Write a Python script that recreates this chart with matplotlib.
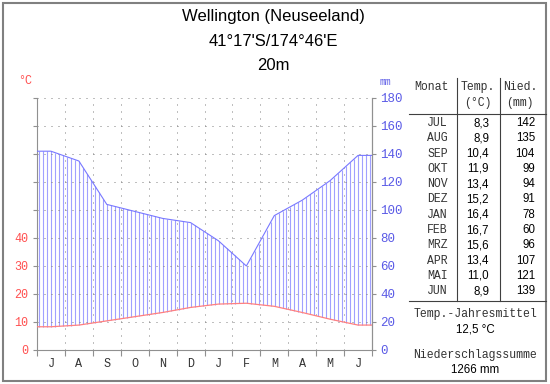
import matplotlib.pyplot as plt
import numpy as np
from matplotlib.patches import Rectangle
from matplotlib.lines import Line2D

# Wellington climate data (July .. June)
months = ["J", "A", "S", "O", "N", "D", "J", "F", "M", "A", "M", "J"]
month_names = ["JUL", "AUG", "SEP", "OKT", "NOV", "DEZ",
               "JAN", "FEB", "MRZ", "APR", "MAI", "JUN"]
temp = [8.3, 8.9, 10.4, 11.9, 13.4, 15.2, 16.4, 16.7, 15.6, 13.4, 11.0, 8.9]
prec = [142, 135, 104, 99, 94, 91, 78, 60, 96, 107, 121, 139]
temp_labels = ["8,3", "8,9", "10,4", "11,9", "13,4", "15,2",
               "16,4", "16,7", "15,6", "13,4", "11,0", "8,9"]
mean_temp = "12,5 °C"
total_prec = "1266 mm"

W, H = 550, 384
MONO = "Liberation Mono"
SANS = "Liberation Sans"
RED = "#ff5050"
BLUE = "#5a5ae6"
GRID = "#808080"


def px(x, y):
    return x / W, 1 - y / H


fig = plt.figure(figsize=(W / 100, H / 100), dpi=100)
ax = fig.add_axes([37 / W, 1 - 350 / H, 335 / W, 252 / H])

# curves: values at month centres, flat to the edges
xc = np.arange(12) + 0.5
xs = np.concatenate([[0], xc, [12]])
t2 = 2 * np.array([temp[0]] + temp + [temp[-1]])  # 10 °C = 20 mm
pp = np.array([prec[0]] + prec + [prec[-1]], dtype=float)

# humid period hatching
xh = np.arange(0.08, 12, 1 / 7)
ax.vlines(xh, np.interp(xh, xs, t2), np.interp(xh, xs, pp),
          color="#a0a0ff", lw=0.8, zorder=1)

# dotted grid
dots = (0, (1, 6))
for yv in range(20, 181, 20):
    ax.plot([0, 12], [yv, yv], color=GRID, lw=0.72, ls=dots, zorder=2)
for xv in range(1, 12):
    ax.plot([xv, xv], [0, 180], color=GRID, lw=0.72, ls=dots, zorder=2)

ax.plot(xs, pp, color="#7878ff", lw=0.8, zorder=3)
ax.plot(xs, t2, color="#ff8080", lw=0.9, zorder=3)

ax.set_xlim(0, 12)
ax.set_ylim(0, 180)
for s in ["top"]:
    ax.spines[s].set_visible(False)
for s in ["left", "right", "bottom"]:
    ax.spines[s].set_color("#909090")
    ax.spines[s].set_linewidth(0.8)

ax.set_xticks(range(13))
ax.set_xticklabels([])
ax.set_xticks(xc, minor=True)
ax.set_xticklabels(months, minor=True, fontfamily=MONO, fontsize=8.5, color="#333333")
ax.tick_params(axis="x", which="major", length=4, color="#909090", width=0.8)
ax.tick_params(axis="x", which="minor", length=0, pad=6)

ax.set_yticks(range(0, 181, 20))
ax.set_yticklabels([str(v // 2) if v <= 80 else "" for v in range(0, 181, 20)],
                   fontfamily=MONO, fontsize=8.5, color=RED)
ax.tick_params(axis="y", length=3, color="#909090", width=0.8, pad=3)

ax2 = ax.twinx()
ax2.set_ylim(0, 180)
ax2.set_yticks(range(0, 181, 20))
ax2.set_yticklabels([str(v) for v in range(0, 181, 20)],
                    fontfamily=MONO, fontsize=9, color=BLUE)
ax2.tick_params(axis="y", length=3, color="#909090", width=0.8, pad=3)
for s in ["top", "left", "bottom"]:
    ax2.spines[s].set_visible(False)
ax2.spines["right"].set_color("#909090")
ax2.spines["right"].set_linewidth(0.8)

fig.text(*px(25, 81), "°C", color=RED, fontfamily=MONO, fontsize=8.5,
         ha="center", va="center")
fig.text(*px(385, 82), "mm", color=BLUE, fontfamily=MONO, fontsize=7,
         ha="center", va="center")

# title
for y, s in zip([17, 42, 65], ["Wellington (Neuseeland)", "41°17'S/174°46'E", "20m"]):
    fig.text(*px(273, y), s, fontfamily=SANS, fontsize=12, ha="center", va="center")

# table
fig.text(*px(431, 87), "Monat", fontfamily=MONO, fontsize=8.3, ha="center", va="center", color="#333333")
fig.text(*px(478, 87), "Temp.", fontfamily=MONO, fontsize=8.3, ha="center", va="center", color="#333333")
fig.text(*px(478, 103), "(°C)", fontfamily=MONO, fontsize=8.3, ha="center", va="center", color="#333333")
fig.text(*px(520, 87), "Nied.", fontfamily=MONO, fontsize=8.3, ha="center", va="center", color="#333333")
fig.text(*px(520, 103), "(mm)", fontfamily=MONO, fontsize=8.3, ha="center", va="center", color="#333333")

for i, (m, t, p) in enumerate(zip(month_names, temp_labels, prec)):
    y = 123 + i * 15.3
    fig.text(*px(448, y), m, fontfamily=MONO, fontsize=8.3, ha="right", va="center", color="#333333")
    fig.text(*px(489, y), t, fontfamily=SANS, fontsize=8.3, ha="right", va="center")
    fig.text(*px(535, y), p, fontfamily=SANS, fontsize=8.3, ha="right", va="center")

lc = "#404040"
for x0, y0, x1, y1 in [(457, 78, 457, 301), (500, 78, 500, 301),
                       (409, 114, 546, 114), (409, 301, 546, 301)]:
    fig.add_artist(Line2D([x0 / W, x1 / W], [1 - y0 / H, 1 - y1 / H],
                          color=lc, lw=0.8))

fig.text(*px(475, 314), "Temp.-Jahresmittel", fontfamily=MONO, fontsize=8.3,
         ha="center", va="center", color="#333333")
fig.text(*px(475, 330), mean_temp, fontfamily=SANS, fontsize=8.3, ha="center", va="center")
fig.text(*px(475, 355), "Niederschlagssumme", fontfamily=MONO, fontsize=8.3,
         ha="center", va="center", color="#333333")
fig.text(*px(475, 370), total_prec, fontfamily=SANS, fontsize=8.3, ha="center", va="center")

# image frame
fig.add_artist(Rectangle((2.5 / W, 1 - 380.5 / H), 543.5 / W, 378 / H,
                         fill=False, ec="#808080", lw=1.5))

fig.savefig("out.png", dpi=100)
